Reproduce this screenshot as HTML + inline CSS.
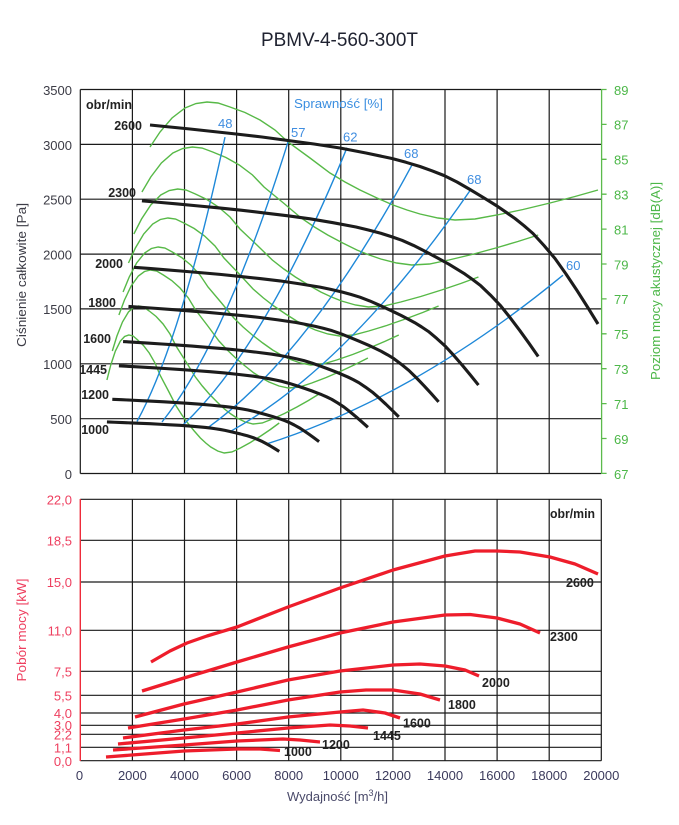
<!DOCTYPE html>
<html><head><meta charset="utf-8"><style>
html,body{margin:0;padding:0;background:#fff;}
svg{display:block;font-family:"Liberation Sans",Arial,sans-serif;}
</style></head><body>
<svg width="679" height="825" viewBox="0 0 679 825" xmlns="http://www.w3.org/2000/svg">
<rect width="679" height="825" fill="#fff"/>
<text x="339.5" y="46" font-size="19" fill="#1f2230" text-anchor="middle" textLength="157" lengthAdjust="spacingAndGlyphs">PBMV-4-560-300T</text>

<!-- TOP CHART GRID -->
<g stroke="#1a1a1a" stroke-width="1.2" fill="none">
<path d="M132.4,89.5V473.5M184.5,89.5V473.5M236.6,89.5V473.5M288.7,89.5V473.5M340.8,89.5V473.5M392.9,89.5V473.5M445,89.5V473.5M497.1,89.5V473.5M549.2,89.5V473.5"/>
<path d="M80.3,144.4H601.3M80.3,199.2H601.3M80.3,254.1H601.3M80.3,308.9H601.3M80.3,363.8H601.3M80.3,418.7H601.3"/>
<path d="M80.3,89.5H601.3M80.3,89.5V473.5M80.3,473.5H601.3"/>
</g>
<g stroke="#5cba4c" stroke-width="1.3">
<path d="M601.6,89V474"/>
<path d="M601.6,89.5h5M601.6,124.4h5M601.6,159.3h5M601.6,194.2h5M601.6,229.1h5M601.6,264h5M601.6,298.9h5M601.6,333.8h5M601.6,368.7h5M601.6,403.6h5M601.6,438.5h5M601.6,473.4h5"/>
</g>

<!-- GREEN NOISE CURVES -->
<g fill="none" stroke="#57b947" stroke-width="1.4">
<g transform="translate(80,102) scale(1,1)"><path vector-effect="non-scaling-stroke" d="M70,45 L80,30 L92,16 L105,6 L116,1.5 L127,0 L138,1 L150,5 L165,10.5 L180,18 L195,28 L208,40 L230,56 L250,71 L265,80 L280,88 L297,96 L313,103 L327,108 L340,112 L358,116 L375,118 L395,117 L417,113 L443,107.5 L470,101 L495,94.5 L518,88"/></g>
<g transform="translate(80,147) scale(0.8846,1)"><path vector-effect="non-scaling-stroke" d="M70,45 L80,30 L92,16 L105,6 L116,1.5 L127,0 L138,1 L150,5 L165,10.5 L180,18 L195,28 L208,40 L230,56 L250,71 L265,80 L280,88 L297,96 L313,103 L327,108 L340,112 L358,116 L375,118 L395,117 L417,113 L443,107.5 L470,101 L495,94.5 L518,88"/></g>
<g transform="translate(80,189) scale(0.7692,1)"><path vector-effect="non-scaling-stroke" d="M70,45 L80,30 L92,16 L105,6 L116,1.5 L127,0 L138,1 L150,5 L165,10.5 L180,18 L195,28 L208,40 L230,56 L250,71 L265,80 L280,88 L297,96 L313,103 L327,108 L340,112 L358,116 L375,118 L395,117 L417,113 L443,107.5 L470,101 L495,94.5 L518,88"/></g>
<g transform="translate(80,218) scale(0.6923,1)"><path vector-effect="non-scaling-stroke" d="M70,45 L80,30 L92,16 L105,6 L116,1.5 L127,0 L138,1 L150,5 L165,10.5 L180,18 L195,28 L208,40 L230,56 L250,71 L265,80 L280,88 L297,96 L313,103 L327,108 L340,112 L358,116 L375,118 L395,117 L417,113 L443,107.5 L470,101 L495,94.5 L518,88"/></g>
<g transform="translate(80,247) scale(0.6154,1)"><path vector-effect="non-scaling-stroke" d="M70,45 L80,30 L92,16 L105,6 L116,1.5 L127,0 L138,1 L150,5 L165,10.5 L180,18 L195,28 L208,40 L230,56 L250,71 L265,80 L280,88 L297,96 L313,103 L327,108 L340,112 L358,116 L375,118 L395,117 L417,113 L443,107.5 L470,101 L495,94.5 L518,88"/></g>
<g transform="translate(80,270) scale(0.5558,1)"><path vector-effect="non-scaling-stroke" d="M70,45 L80,30 L92,16 L105,6 L116,1.5 L127,0 L138,1 L150,5 L165,10.5 L180,18 L195,28 L208,40 L230,56 L250,71 L265,80 L280,88 L297,96 L313,103 L327,108 L340,112 L358,116 L375,118 L395,117 L417,113 L443,107.5 L470,101 L495,94.5 L518,88"/></g>
<g transform="translate(80,306) scale(0.4615,1)"><path vector-effect="non-scaling-stroke" d="M70,45 L80,30 L92,16 L105,6 L116,1.5 L127,0 L138,1 L150,5 L165,10.5 L180,18 L195,28 L208,40 L230,56 L250,71 L265,80 L280,88 L297,96 L313,103 L327,108 L340,112 L358,116 L375,118 L395,117 L417,113 L443,107.5 L470,101 L495,94.5 L518,88"/></g>
<g transform="translate(80,335) scale(0.3846,1)"><path vector-effect="non-scaling-stroke" d="M70,45 L80,30 L92,16 L105,6 L116,1.5 L127,0 L138,1 L150,5 L165,10.5 L180,18 L195,28 L208,40 L230,56 L250,71 L265,80 L280,88 L297,96 L313,103 L327,108 L340,112 L358,116 L375,118 L395,117 L417,113 L443,107.5 L470,101 L495,94.5 L518,88"/></g>
</g>

<!-- BLUE EFFICIENCY PARABOLAS -->
<g fill="none" stroke="#1e88d8" stroke-width="1.4">
<path d="M137,421.5 Q181,341.3 225,137.1"/>
<path d="M162,422 Q225,342.8 288,142.1"/>
<path d="M182.7,425.3 Q264.9,348.2 347,147.7"/>
<path d="M207.7,427.8 Q309.9,354.8 412,164.9"/>
<path d="M230,431.7 Q350,364.7 470,190.6"/>
<path d="M265.8,444.2 Q414.4,397.2 563,275.2"/>
</g>

<!-- BLACK FAN CURVES -->
<g fill="none" stroke="#1c1c1c" stroke-width="3.1" stroke-linejoin="round" stroke-linecap="butt">
<g transform="translate(80,473.5) scale(1,1)"><path vector-effect="non-scaling-stroke" d="M70,-348.5 L90,-346.5 L110,-344.5 L133,-342 L156,-339.5 L182,-336.5 L208,-333 L234,-329.5 L260,-325.5 L286,-320.5 L312,-315 L326,-311.2 L340,-307 L352,-302.7 L364,-298 L377,-291.5 L390,-284 L404,-275.6 L417,-267.5 L426,-261.3 L435,-255 L444,-247.8 L453,-240 L464,-228 L475,-215 L486,-199.5 L497,-183 L507.5,-166.5 L518,-149.5"/></g>
<g transform="translate(80,473.5) scale(0.8846,0.7825)"><path vector-effect="non-scaling-stroke" d="M70,-348.5 L90,-346.5 L110,-344.5 L133,-342 L156,-339.5 L182,-336.5 L208,-333 L234,-329.5 L260,-325.5 L286,-320.5 L312,-315 L326,-311.2 L340,-307 L352,-302.7 L364,-298 L377,-291.5 L390,-284 L404,-275.6 L417,-267.5 L426,-261.3 L435,-255 L444,-247.8 L453,-240 L464,-228 L475,-215 L486,-199.5 L497,-183 L507.5,-166.5 L518,-149.5"/></g>
<g transform="translate(80,473.5) scale(0.7692,0.5917)"><path vector-effect="non-scaling-stroke" d="M70,-348.5 L90,-346.5 L110,-344.5 L133,-342 L156,-339.5 L182,-336.5 L208,-333 L234,-329.5 L260,-325.5 L286,-320.5 L312,-315 L326,-311.2 L340,-307 L352,-302.7 L364,-298 L377,-291.5 L390,-284 L404,-275.6 L417,-267.5 L426,-261.3 L435,-255 L444,-247.8 L453,-240 L464,-228 L475,-215 L486,-199.5 L497,-183 L507.5,-166.5 L518,-149.5"/></g>
<g transform="translate(80,473.5) scale(0.6923,0.4793)"><path vector-effect="non-scaling-stroke" d="M70,-348.5 L90,-346.5 L110,-344.5 L133,-342 L156,-339.5 L182,-336.5 L208,-333 L234,-329.5 L260,-325.5 L286,-320.5 L312,-315 L326,-311.2 L340,-307 L352,-302.7 L364,-298 L377,-291.5 L390,-284 L404,-275.6 L417,-267.5 L426,-261.3 L435,-255 L444,-247.8 L453,-240 L464,-228 L475,-215 L486,-199.5 L497,-183 L507.5,-166.5 L518,-149.5"/></g>
<g transform="translate(80,473.5) scale(0.6154,0.3787)"><path vector-effect="non-scaling-stroke" d="M70,-348.5 L90,-346.5 L110,-344.5 L133,-342 L156,-339.5 L182,-336.5 L208,-333 L234,-329.5 L260,-325.5 L286,-320.5 L312,-315 L326,-311.2 L340,-307 L352,-302.7 L364,-298 L377,-291.5 L390,-284 L404,-275.6 L417,-267.5 L426,-261.3 L435,-255 L444,-247.8 L453,-240 L464,-228 L475,-215 L486,-199.5 L497,-183 L507.5,-166.5 L518,-149.5"/></g>
<g transform="translate(80,473.5) scale(0.5558,0.3089)"><path vector-effect="non-scaling-stroke" d="M70,-348.5 L90,-346.5 L110,-344.5 L133,-342 L156,-339.5 L182,-336.5 L208,-333 L234,-329.5 L260,-325.5 L286,-320.5 L312,-315 L326,-311.2 L340,-307 L352,-302.7 L364,-298 L377,-291.5 L390,-284 L404,-275.6 L417,-267.5 L426,-261.3 L435,-255 L444,-247.8 L453,-240 L464,-228 L475,-215 L486,-199.5 L497,-183 L507.5,-166.5 L518,-149.5"/></g>
<g transform="translate(80,473.5) scale(0.4615,0.2130)"><path vector-effect="non-scaling-stroke" d="M70,-348.5 L90,-346.5 L110,-344.5 L133,-342 L156,-339.5 L182,-336.5 L208,-333 L234,-329.5 L260,-325.5 L286,-320.5 L312,-315 L326,-311.2 L340,-307 L352,-302.7 L364,-298 L377,-291.5 L390,-284 L404,-275.6 L417,-267.5 L426,-261.3 L435,-255 L444,-247.8 L453,-240 L464,-228 L475,-215 L486,-199.5 L497,-183 L507.5,-166.5 L518,-149.5"/></g>
<g transform="translate(80,473.5) scale(0.3846,0.1479)"><path vector-effect="non-scaling-stroke" d="M70,-348.5 L90,-346.5 L110,-344.5 L133,-342 L156,-339.5 L182,-336.5 L208,-333 L234,-329.5 L260,-325.5 L286,-320.5 L312,-315 L326,-311.2 L340,-307 L352,-302.7 L364,-298 L377,-291.5 L390,-284 L404,-275.6 L417,-267.5 L426,-261.3 L435,-255 L444,-247.8 L453,-240 L464,-228 L475,-215 L486,-199.5 L497,-183 L507.5,-166.5 L518,-149.5"/></g>
</g>

<!-- TOP CHART TEXT -->
<g font-size="13" fill="#3c3c46" text-anchor="end">
<text x="72" y="95">3500</text>
<text x="72" y="150">3000</text>
<text x="72" y="204.5">2500</text>
<text x="72" y="259.5">2000</text>
<text x="72" y="314">1500</text>
<text x="72" y="369">1000</text>
<text x="72" y="424">500</text>
<text x="72" y="479">0</text>
</g>
<text transform="translate(26,275) rotate(-90)" font-size="13" fill="#3c3c46" text-anchor="middle" textLength="144" lengthAdjust="spacingAndGlyphs">Ciśnienie całkowite [Pa]</text>
<g font-size="13" fill="#4cb748">
<text x="614" y="95">89</text>
<text x="614" y="129.5">87</text>
<text x="614" y="164.5">85</text>
<text x="614" y="199.5">83</text>
<text x="614" y="234.5">81</text>
<text x="614" y="269.5">79</text>
<text x="614" y="304">77</text>
<text x="614" y="339">75</text>
<text x="614" y="374">73</text>
<text x="614" y="409">71</text>
<text x="614" y="444">69</text>
<text x="614" y="479">67</text>
</g>
<text transform="translate(660,281) rotate(-90)" font-size="13" fill="#4cb748" text-anchor="middle" textLength="198" lengthAdjust="spacingAndGlyphs">Poziom mocy akustycznej [dB(A)]</text>
<text x="294" y="108" font-size="13" fill="#3a8ee0" textLength="89" lengthAdjust="spacingAndGlyphs">Sprawność [%]</text>
<g font-size="13" fill="#3f8de0">
<text x="218" y="128">48</text>
<text x="291" y="137">57</text>
<text x="343" y="141.5">62</text>
<text x="404" y="158">68</text>
<text x="467" y="184">68</text>
<text x="566" y="270">60</text>
</g>
<g font-size="12.5" font-weight="bold" fill="#222">
<text x="86" y="109" textLength="46" lengthAdjust="spacingAndGlyphs">obr/min</text>
<g text-anchor="end">
<text x="142" y="130">2600</text>
<text x="136" y="197">2300</text>
<text x="123" y="268">2000</text>
<text x="116" y="307">1800</text>
<text x="111" y="343">1600</text>
<text x="107" y="374">1445</text>
<text x="109" y="399">1200</text>
<text x="109" y="434">1000</text>
</g>
</g>

<!-- BOTTOM CHART GRID -->
<g stroke="#1a1a1a" stroke-width="1.2" fill="none">
<path d="M132.4,499.3V760.7M184.5,499.3V760.7M236.6,499.3V760.7M288.7,499.3V760.7M340.8,499.3V760.7M392.9,499.3V760.7M445,499.3V760.7M497.1,499.3V760.7M549.2,499.3V760.7M601.3,499.3V760.7"/>
<path d="M80.3,499.3H601.3M80.3,540.3H601.3M80.3,582H601.3M80.3,630.3H601.3M80.3,671.3H601.3M80.3,695.3H601.3M80.3,713H601.3M80.3,725.3H601.3M80.3,734.3H601.3M80.3,747.3H601.3M80.3,760.7H601.3"/>
</g>
<path d="M80.3,499V761" stroke="#ee2b3a" stroke-width="1.4"/>

<!-- RED POWER CURVES -->
<g fill="none" stroke="#ee1d2b" stroke-width="3.3" stroke-linejoin="round">
<polyline points="151,662 170,651 187,643 207,636 237,627 288,607 340,588 393,570 445,556 475,551 497,551 520,552 550,557 575,564 598,574"/>
<polyline points="142,691 184,678 237,662 288,647 340,633 393,622 445,615 470,614.5 497,618 520,624 540,633"/>
<polyline points="135,717 184,704 237,692 288,680 340,671 393,665 420,664 445,666 465,670 479,676"/>
<polyline points="128,728 184,719 237,710 288,700 340,692 366,690 393,690 420,694 440,700"/>
<polyline points="123,738 184,730 237,724 288,717 340,712 363,710 385,713 400,718"/>
<polyline points="118,744 184,738 237,733 288,728 330,725 350,726 368,728"/>
<polyline points="113,750 184,745 237,741 283,739 300,740 320,742"/>
<polyline points="106,757 184,751 237,749 260,749 280,750.5"/>
</g>

<!-- BOTTOM CHART TEXT -->
<g font-size="13" fill="#ee3f5f" text-anchor="end">
<text x="72" y="504.5">22,0</text>
<text x="72" y="545.5">18,5</text>
<text x="72" y="587">15,0</text>
<text x="72" y="635.5">11,0</text>
<text x="72" y="676.5">7,5</text>
<text x="72" y="700.5">5,5</text>
<text x="72" y="718">4,0</text>
<text x="72" y="730">3,0</text>
<text x="72" y="739.5">2,2</text>
<text x="72" y="752.5">1,1</text>
<text x="72" y="766">0,0</text>
</g>
<text transform="translate(26,630) rotate(-90)" font-size="13" fill="#ee3f5f" text-anchor="middle" textLength="103" lengthAdjust="spacingAndGlyphs">Pobór mocy [kW]</text>
<g font-size="13" fill="#3b3a5c" text-anchor="middle">
<text x="79.5" y="780">0</text>
<text x="132.4" y="780">2000</text>
<text x="184.5" y="780">4000</text>
<text x="236.6" y="780">6000</text>
<text x="288.7" y="780">8000</text>
<text x="340.8" y="780">10000</text>
<text x="392.9" y="780">12000</text>
<text x="445" y="780">14000</text>
<text x="497.1" y="780">16000</text>
<text x="549.2" y="780">18000</text>
<text x="601.3" y="780">20000</text>
</g>
<text x="287" y="801" font-size="13" fill="#4a4a6a">Wydajność [m<tspan font-size="9" dy="-5">3</tspan><tspan dy="5">/h]</tspan></text>
<g font-size="12.5" font-weight="bold" fill="#222">
<text x="550" y="518" textLength="45" lengthAdjust="spacingAndGlyphs">obr/min</text>
<text x="566" y="587">2600</text>
<text x="550" y="641">2300</text>
<text x="482" y="687">2000</text>
<text x="448" y="709">1800</text>
<text x="403" y="727.5">1600</text>
<text x="373" y="740">1445</text>
<text x="322" y="749">1200</text>
<text x="284" y="756">1000</text>
</g>
</svg>
</body></html>
